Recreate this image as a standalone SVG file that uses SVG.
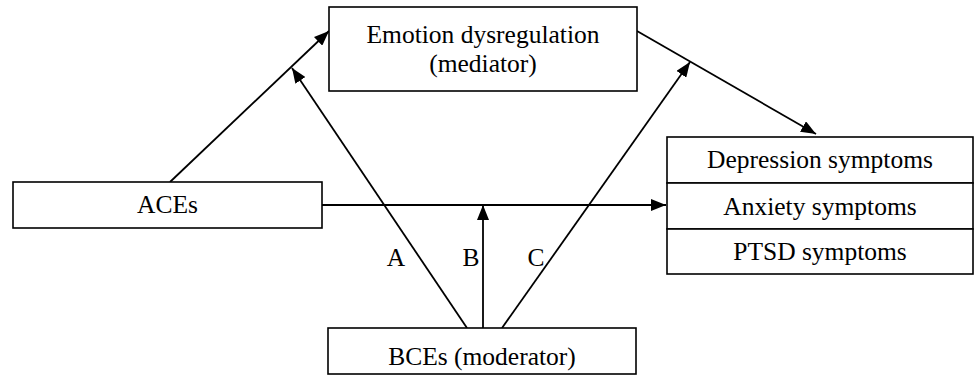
<svg xmlns="http://www.w3.org/2000/svg" width="974" height="376" viewBox="0 0 974 376">
<style>
.box{fill:#fff;stroke:#000;stroke-width:1.6}
.t{font-family:"Liberation Serif","Times New Roman",serif;font-size:25.5px;fill:#000;text-anchor:middle}
.c{stroke:#000;stroke-width:1.8;fill:none;marker-end:url(#ah)}
</style>
<defs>
<marker id="ah" markerUnits="userSpaceOnUse" markerWidth="16" markerHeight="12" refX="15" refY="6" orient="auto">
<path d="M0,0 L15,6 L0,12 Z" fill="#000"/>
</marker>
</defs>
<rect width="974" height="376" fill="#fff"/>
<g id="connectors">
<line class="c" x1="170" y1="182" x2="329" y2="31"/>
<line class="c" x1="637" y1="31" x2="816" y2="134"/>
<line class="c" x1="322" y1="205" x2="666" y2="205"/>
<line class="c" x1="467" y1="328" x2="292" y2="68"/>
<line class="c" x1="483" y1="328" x2="483" y2="205"/>
<line class="c" x1="502" y1="328" x2="690" y2="62"/>
<text class="t" x="396" y="266">A</text>
<text class="t" x="471" y="266">B</text>
<text class="t" x="536" y="266">C</text>
</g>
<g id="emotion">
<rect class="box" x="329" y="7" width="308" height="84"/>
<text class="t" x="483" y="43">Emotion dysregulation</text>
<text class="t" x="483" y="72">(mediator)</text>
</g>
<g id="aces">
<rect class="box" x="13" y="182" width="309" height="46"/>
<text class="t" x="167.5" y="213">ACEs</text>
</g>
<g id="outcomes">
<rect class="box" x="667" y="137" width="306" height="46"/>
<text class="t" x="820" y="168">Depression symptoms</text>
<rect class="box" x="667" y="183" width="306" height="46"/>
<text class="t" x="820" y="215">Anxiety symptoms</text>
<rect class="box" x="667" y="229" width="306" height="45"/>
<text class="t" x="820" y="260">PTSD symptoms</text>
</g>
<g id="bces">
<rect class="box" x="328" y="328" width="308" height="46"/>
<text class="t" x="482" y="365">BCEs (moderator)</text>
</g>
</svg>
